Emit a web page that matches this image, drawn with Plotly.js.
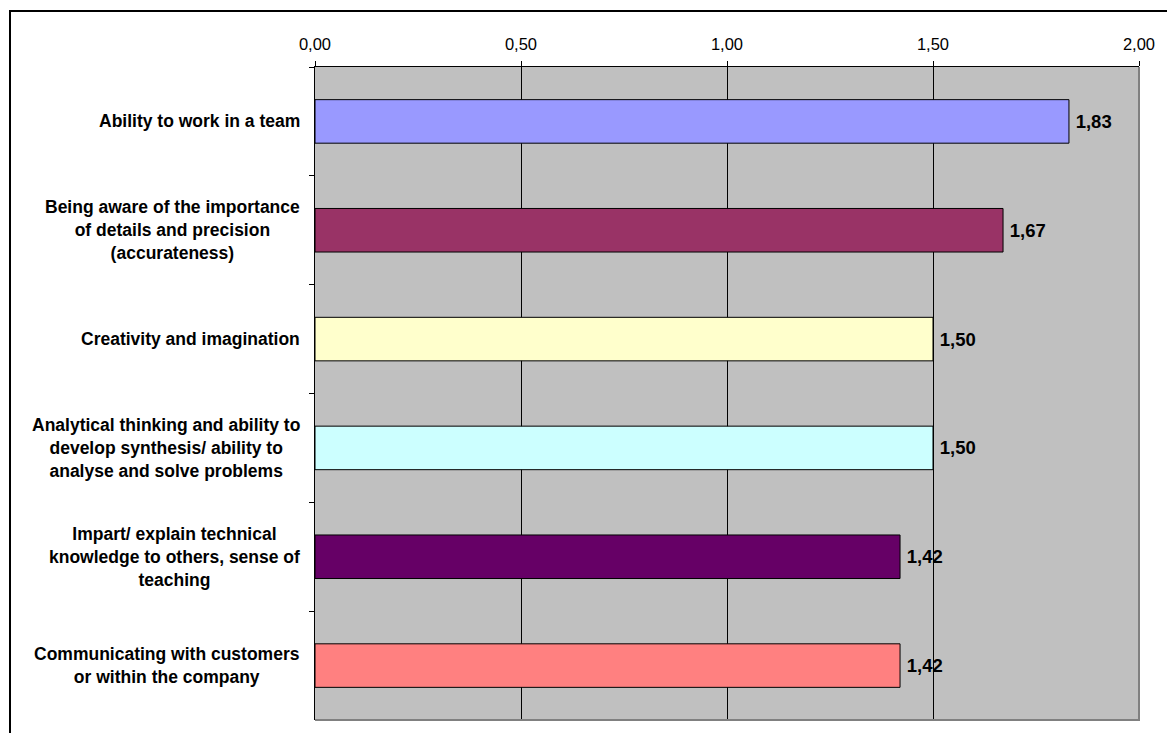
<!DOCTYPE html>
<html>
<head>
<meta charset="utf-8">
<script src="https://cdn.plot.ly/plotly-3.0.1.min.js"></script>
<style>
html,body{margin:0;padding:0;background:#fff;overflow:hidden;}
#wrap{position:relative;width:1167px;height:733px;}
#chart{position:absolute;left:0;top:0;width:1167px;height:733px;}
#frame{position:absolute;left:9px;top:10px;width:1200px;height:800px;border:2px solid #000;pointer-events:none;box-sizing:border-box;}
</style>
</head>
<body>
<div id="wrap"><div id="chart"></div><div id="frame"></div></div>
<script>
const categories = [
  "Ability to work in a team",
  "Being aware of the importance<br>of details and precision<br>(accurateness)",
  "Creativity and imagination",
  "Analytical thinking and ability to<br>develop synthesis/ ability to<br>analyse and solve problems",
  "Impart/ explain technical<br>knowledge to others, sense of<br>teaching",
  "Communicating with customers<br>or within the company"
];
const values = [1.83, 1.67, 1.50, 1.50, 1.42, 1.42];
const barColors = ["#9999FF", "#993366", "#FFFFCC", "#CCFFFF", "#660066", "#FF8080"];
const tickValues = [0, 0.5, 1, 1.5, 2];
const tickLabels = ["0,00", "0,50", "1,00", "1,50", "2,00"];

const FONT = "Liberation Sans, Arial, Helvetica, sans-serif";
const valueText = values.map(v => "\u2009<b>" + v.toFixed(2).replace(".", ",") + "</b>");

const trace = {
  type: "bar",
  orientation: "h",
  x: values,
  y: categories,
  width: 0.4,
  marker: {color: barColors, line: {color: "#000", width: 1}},
  text: valueText,
  textposition: "outside",
  constraintext: "none",
  cliponaxis: false,
  textfont: {family: FONT, size: 18.5, color: "#000"},
  hoverinfo: "none"
};

const annotations = categories.map(c => ({
  text: "<b>" + c + "</b>",
  x: 0, xref: "paper", xanchor: "right", xshift: -13,
  y: c, yref: "y", yanchor: "middle",
  align: "center", showarrow: false,
  font: {family: FONT, size: 17.5, color: "#000"}
}));

const layout = {
  width: 1167, height: 733,
  margin: {l: 315, r: 28, t: 67, b: 13, pad: 0},
  paper_bgcolor: "#fff",
  plot_bgcolor: "#C0C0C0",
  showlegend: false,
  font: {family: FONT, color: "#000"},
  xaxis: {
    side: "top",
    range: [0, 2],
    tickvals: tickValues,
    ticktext: tickLabels,
    ticks: "outside", ticklen: 5, tickcolor: "#000", tickwidth: 1,
    ticklabelstandoff: 4,
    tickfont: {family: FONT, size: 16.5, color: "#000"},
    showgrid: true, gridcolor: "#000", gridwidth: 1,
    zeroline: false,
    showline: true, linecolor: "#000", linewidth: 1.5,
    fixedrange: true
  },
  yaxis: {
    type: "category",
    categoryorder: "array", categoryarray: categories,
    range: [5.5, -0.5],
    tickson: "boundaries",
    ticks: "outside", ticklen: 5, tickcolor: "#000", tickwidth: 1,
    showticklabels: false,
    showgrid: false, zeroline: false,
    showline: true, linecolor: "#000", linewidth: 1.5,
    fixedrange: true
  },
  shapes: [{
    type: "path", xref: "paper", yref: "paper",
    path: "M1,1 L1,0 L0,0",
    line: {color: "#808080", width: 2},
    layer: "above"
  }],
  annotations: annotations
};

Plotly.newPlot("chart", [trace], layout, {displayModeBar: false, staticPlot: true});
</script>
</body>
</html>
